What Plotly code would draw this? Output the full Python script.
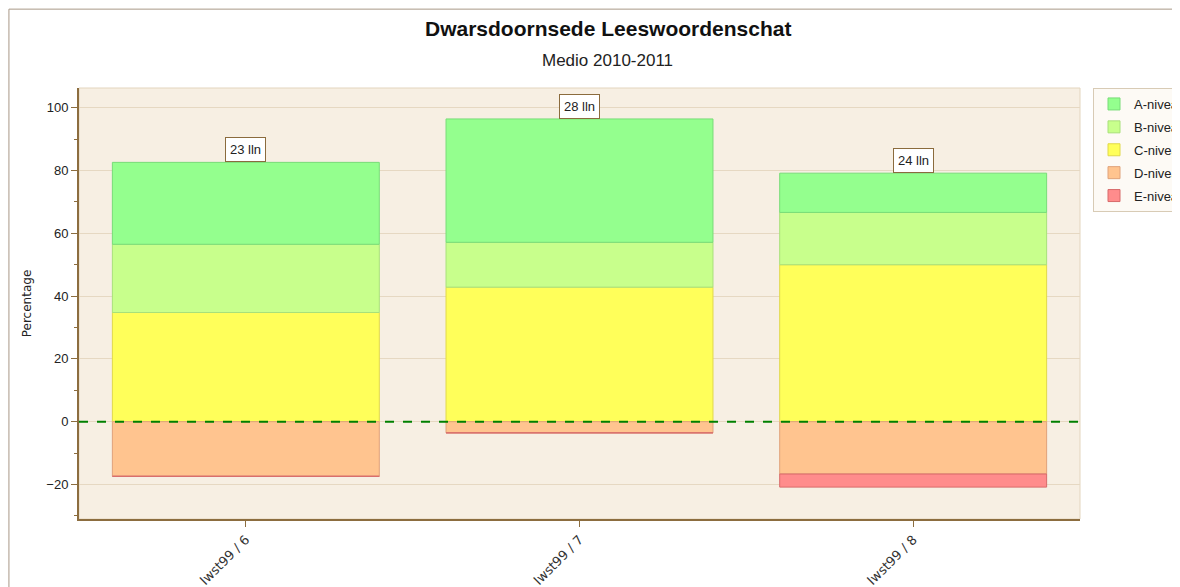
import plotly.graph_objects as go

# Data
groepen = ["lwst99 / 6", "lwst99 / 7", "lwst99 / 8"]
leerlingen = [23, 28, 24]
niveau_a = [26.09, 39.29, 12.50]
niveau_b = [21.74, 14.29, 16.67]
niveau_c = [34.78, 42.86, 50.00]
niveau_d = [-17.39, -3.57, -16.67]
niveau_e = [0.0, 0.0, -4.17]

fig = go.Figure()

# positive stack bottom-up: C, B, A ; negative: D, then E hangs below D
series = [
    ("C-niveau", niveau_c, "#FFFF5A", "#E0D84A", 3, None),
    ("B-niveau", niveau_b, "#C8FF8C", "#A8E07A", 2, None),
    ("A-niveau", niveau_a, "#94FF8E", "#78DC78", 1, None),
    ("D-niveau", niveau_d, "#FFC48F", "#E0A27A", 4, None),
    ("E-niveau", niveau_e, "#FF8C8C", "#D86B6B", 5, niveau_d),
]
for name, vals, fill, edge, rank, base in series:
    fig.add_trace(go.Bar(
        x=groepen, y=vals, base=base, name=name, legendrank=rank, legendgroup=name,
        marker=dict(color=fill, line=dict(color=edge, width=1)),
        width=0.8,
    ))

# dashed zero line
fig.add_hline(y=0, line=dict(color="#008000", width=2, dash="dash"))

# labels with number of pupils
totals = [a + b + c for a, b, c in zip(niveau_a, niveau_b, niveau_c)]
for g, n, t in zip(groepen, leerlingen, totals):
    fig.add_annotation(
        x=g, y=t, text=f"{n} lln", showarrow=False, yanchor="bottom",
        bgcolor="white", bordercolor="#8B6B3D", borderwidth=1, borderpad=4,
        font=dict(family="Liberation Sans", size=13, color="#222"),
    )

# titles
fig.add_annotation(x=0.528, y=1.137, xref="paper", yref="paper", showarrow=False,
                   yanchor="middle", text="<b>Dwarsdoornsede Leeswoordenschat</b>",
                   font=dict(family="Liberation Sans", size=21, color="#111"))
fig.add_annotation(x=0.528, y=1.063, xref="paper", yref="paper", showarrow=False,
                   yanchor="middle", text="Medio 2010-2011",
                   font=dict(family="Liberation Sans", size=17, color="#222"))

# outer frame and plot area edge
fig.add_shape(type="rect", xref="paper", yref="paper",
              x0=-0.07, x1=1.2, y0=-0.3, y1=1.183,
              line=dict(color="#A89886", width=1), layer="below")
fig.add_shape(type="rect", xref="paper", yref="paper", x0=0, x1=1, y0=0, y1=1,
              line=dict(color="#E3D5BE", width=1), layer="below")

fig.update_layout(
    width=1172, height=579,
    margin=dict(l=71, r=100, t=80, b=68, autoexpand=False),
    barmode="relative",
    paper_bgcolor="white",
    plot_bgcolor="#F7EFE3",
    font=dict(family="Liberation Sans", size=12, color="#222"),
    legend=dict(
        x=1.013, y=1, xanchor="left", yanchor="top",
        bgcolor="#FDFAF5", bordercolor="#D8CBB5", borderwidth=1,
        font=dict(family="Liberation Sans", size=13, color="#222"),
        traceorder="grouped", tracegroupgap=3,
    ),
    showlegend=True,
)

fig.update_xaxes(
    range=[-0.5, 2.5], tickangle=-45, showline=True, linecolor="#8C6D3F", linewidth=2,
    ticks="outside", ticklen=6, tickcolor="#8C6D3F", showgrid=False,
    tickfont=dict(family="DejaVu Sans", size=13, color="#333"),
)
fig.update_yaxes(
    range=[-31, 106.3], tickvals=[-20, 0, 20, 40, 60, 80, 100],
    showline=True, linecolor="#8C6D3F", linewidth=2,
    ticks="outside", ticklen=6, tickcolor="#8C6D3F",
    minor=dict(dtick=10, ticks="outside", ticklen=3, tickcolor="#8C6D3F", showgrid=False),
    gridcolor="#E6D8C2", zeroline=False,
    title=dict(text="Percentage", font=dict(family="DejaVu Sans", size=12, color="#222"),
               standoff=12),
    tickfont=dict(size=13, color="#222"),
)

fig.write_html("out.html")
